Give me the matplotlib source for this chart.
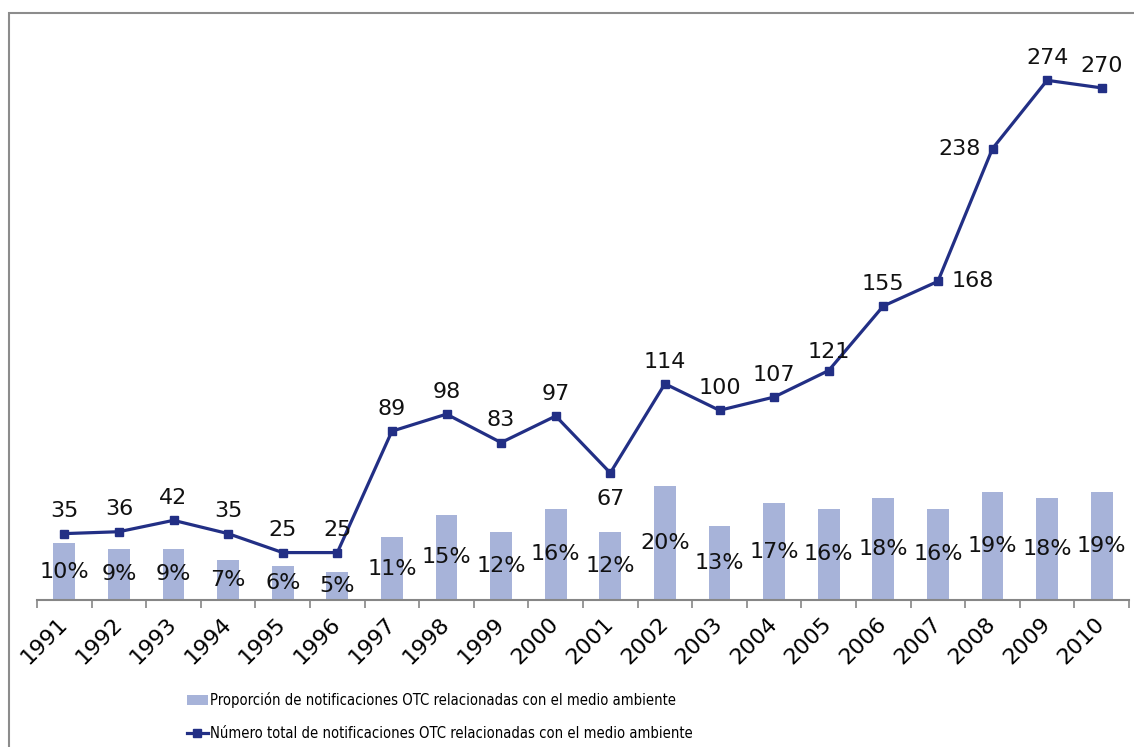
import matplotlib
matplotlib.use("Agg")
import matplotlib.pyplot as plt
from matplotlib.patches import Rectangle
import numpy as np

# ── Data ──────────────────────────────────────────────────────────────────────
years = ["1991", "1992", "1993", "1994", "1995", "1996", "1997", "1998", "1999", "2000",
         "2001", "2002", "2003", "2004", "2005", "2006", "2007", "2008", "2009", "2010"]
total_notif = [35, 36, 42, 35, 25, 25, 89, 98, 83, 97,
               67, 114, 100, 107, 121, 155, 168, 238, 274, 270]
share_pct = [10, 9, 9, 7, 6, 5, 11, 15, 12, 16,
             12, 20, 13, 17, 16, 18, 16, 19, 18, 19]

label_bar = "Proporción de notificaciones OTC relacionadas con el medio ambiente"
label_line = "Número total de notificaciones OTC relacionadas con el medio ambiente"

# label offsets (points) for the line values; default is above the marker
line_lbl_offset = {10: (0, -19), 16: (25, 0), 17: (-24, 0), 14: (0, 13)}

BAR_C = "#A7B3D9"
LINE_C = "#222F85"
AXIS_C = "#868686"
FS = 16

W, H = 1134, 747
fig = plt.figure(figsize=(W / 100, H / 100), dpi=100)
ax2 = fig.add_axes([37 / W, 1 - 600 / H, (1129 - 37) / W, (600 - 31) / H])
ax = ax2.twinx()

x = np.arange(len(years))

# bars on secondary scale (0-100 %)
bars = ax2.bar(x, np.array(share_pct) / 100.0, width=0.4, color=BAR_C,
               label=label_bar, zorder=1)
ax2.set_ylim(0, 1.0)
for xi, p in zip(x, share_pct):
    ax2.text(xi, p / 200.0, f"{p}%", ha="center", va="center",
             fontsize=FS, color="#111111")

# line on primary scale (0-300)
ln, = ax.plot(x, total_notif, color=LINE_C, lw=2.3, marker="s", ms=5.5,
              label=label_line, zorder=3)
ax.set_ylim(0, 300)
for i, (xi, v) in enumerate(zip(x, total_notif)):
    dx, dy = line_lbl_offset.get(i, (0, 16))
    ax.annotate(str(v), (xi, v), xytext=(dx, dy), textcoords="offset points",
                ha="center", va="center", fontsize=FS, color="#111111")

for a in (ax, ax2):
    a.set_xlim(-0.5, len(years) - 0.5)
    a.patch.set_visible(False)
    for s in ("top", "left", "right"):
        a.spines[s].set_visible(False)
    a.set_yticks([])
ax.spines["bottom"].set_visible(False)
ax2.spines["bottom"].set_color(AXIS_C)
ax2.spines["bottom"].set_linewidth(1.5)

# ticks between categories, labels at centres
ax2.set_xticks(np.arange(len(years) + 1) - 0.5)
ax2.set_xticklabels([])
ax2.tick_params(axis="x", which="major", length=6, width=1.2, color=AXIS_C, direction="out")
ax2.set_xticks(x, minor=True)
ax2.set_xticklabels(years, minor=True, rotation=45, ha="right", va="center",
                    rotation_mode="anchor", fontsize=FS)
ax2.tick_params(axis="x", which="minor", length=0, pad=15)

# legend below
fig.legend([bars, ln], [label_bar, label_line], loc="upper left",
           bbox_to_anchor=(187 / W, 1 - 692 / H), frameon=False, ncol=1,
           handlelength=1.4, handletextpad=0.15, labelspacing=1.2,
           borderpad=0, borderaxespad=0,
           prop={"family": "DejaVu Sans", "stretch": "condensed", "size": 10.6})

# chart-area border
fig.patches.append(Rectangle((9 / W, -0.05), 1.2, 1 - 13 / H + 0.05,
                             transform=fig.transFigure, fill=False,
                             edgecolor="#8C8C8C", lw=1.5))

fig.savefig("out.png", dpi=100)
